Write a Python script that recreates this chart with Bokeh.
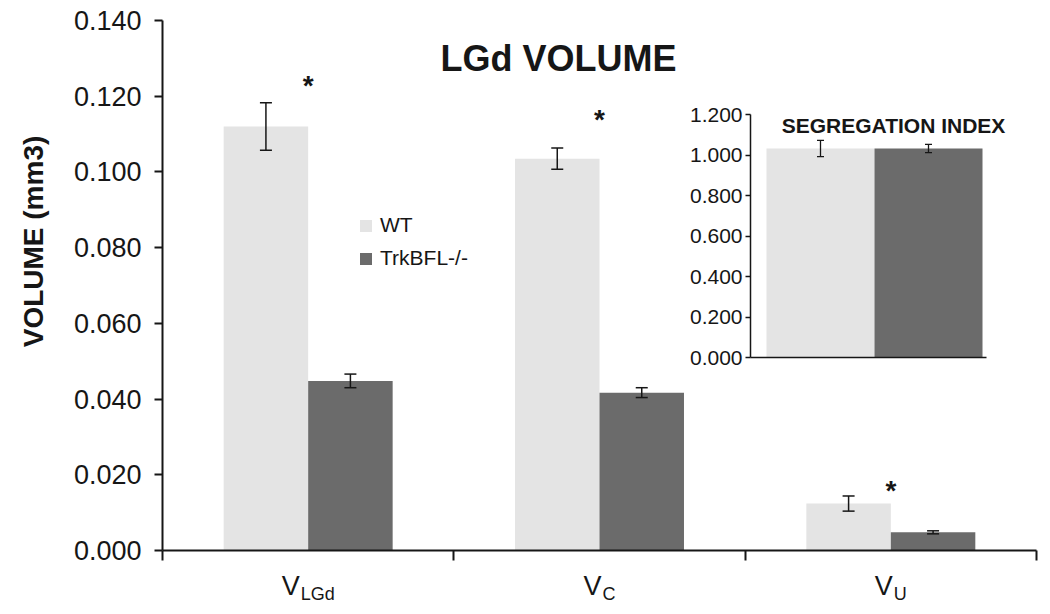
import math
from bokeh.plotting import figure
from bokeh.models import (Range1d, LinearAxis, FixedTicker, Label, Legend, LegendItem,
                          Whisker, ColumnDataSource, TeeHead, PrintfTickFormatter)
from bokeh.core.properties import value
from bokeh.embed import file_html
from bokeh.resources import INLINE

# ---------------- data ----------------
groups = ["WT", "TrkBFL-/-"]
cat_main = ["V", "V", "V"]
cat_sub = ["LGd", "C", "U"]
wt_mean = [0.112, 0.1035, 0.0124]
wt_err = [0.0063, 0.0028, 0.0020]
ko_mean = [0.0448, 0.0417, 0.0048]
ko_err = [0.0018, 0.0013, 0.0004]
sig_y = [0.1245, 0.1154, 0.0175]
y_ticks = [0.0, 0.02, 0.04, 0.06, 0.08, 0.10, 0.12, 0.14]

seg_mean = [1.032, 1.032]
seg_err = [0.040, 0.020]
seg_ticks = [0.0, 0.2, 0.4, 0.6, 0.8, 1.0, 1.2]

title_main = "LGd VOLUME"
title_inset = "SEGREGATION INDEX"
y_label = "VOLUME (mm3)"

# ---------------- layout (pixels) ----------------
W, H = 1040, 610
# main plot area: x 0..3 spans px 162..1036, y 0..0.14 spans px 550..20
MX0, MX1, MY0, MY1 = 162, 1036, 550, 20
# inset area: x unit = 108 px from px 766, y 0..1.2 spans px 357..114
IX0, IXU, IY0, IY1 = 766, 108, 357, 114

def lin(px0, v0, px1, v1, a, b):
    k = (v1 - v0) / (px1 - px0)
    return v0 + (a - px0) * k, v0 + (b - px0) * k

mx = lin(MX0, 0, MX1, 3, 0, W)
my = lin(MY0, 0, MY1, 0.14, H, 0)
ix = lin(IX0, 0, IX0 + IXU, 1, 0, W)
iy = lin(IY0, 0, IY1, 1.2, H, 0)

FONT = "Liberation Sans"
LIGHT = "#e4e4e4"
DARK = "#6b6b6b"
INK = "#161616"

p = figure(width=W, height=H, x_range=Range1d(*mx), y_range=Range1d(my[0], my[1]),
           output_backend="svg", toolbar_location=None,
           min_border_left=0, min_border_right=0, min_border_top=0, min_border_bottom=0)
p.outline_line_color = None
p.xgrid.grid_line_color = None
p.ygrid.grid_line_color = None
p.background_fill_color = "white"
p.border_fill_color = "white"

# main y axis
ya = p.yaxis[0]
ya.fixed_location = 0
ya.bounds = (0, 0.14)
ya.ticker = FixedTicker(ticks=y_ticks)
ya.formatter = PrintfTickFormatter(format="%.3f")
ya.major_tick_out = 8
ya.major_tick_in = 0
ya.minor_tick_line_color = None
ya.axis_line_width = 2
ya.major_tick_line_width = 2
ya.axis_line_color = INK
ya.major_tick_line_color = INK
ya.major_label_text_font = FONT
ya.major_label_text_font_size = "27px"
ya.major_label_text_color = INK
ya.major_label_standoff = 13

# main x axis
xa = p.xaxis[0]
xa.fixed_location = 0
xa.bounds = (0, 3)
xa.ticker = FixedTicker(ticks=[0, 1, 2, 3])
xa.major_label_overrides = {0: "", 1: "", 2: "", 3: ""}
xa.major_tick_out = 10
xa.major_tick_in = 0
xa.minor_tick_line_color = None
xa.axis_line_width = 2
xa.major_tick_line_width = 2
xa.axis_line_color = INK
xa.major_tick_line_color = INK

# y axis title
p.add_layout(Label(x=33, y=H - 241, x_units="screen", y_units="screen", text=y_label,
                   angle=math.pi / 2, text_font=FONT, text_font_style="bold",
                   text_font_size="28px", text_color=INK,
                   text_align="center", text_baseline="middle"))

# bars
n = len(wt_mean)
x_wt = [i + 0.355 for i in range(n)]
x_ko = [i + 0.645 for i in range(n)]
centers = [i + 0.5 for i in range(n)]
r_wt = p.vbar(x=x_wt, top=wt_mean, width=0.29, fill_color=LIGHT, line_color=None)
r_ko = p.vbar(x=x_ko, top=ko_mean, width=0.29, fill_color=DARK, line_color=None)

err_src = ColumnDataSource(dict(
    x=x_wt + x_ko,
    lower=[m - e for m, e in zip(wt_mean, wt_err)] + [m - e for m, e in zip(ko_mean, ko_err)],
    upper=[m + e for m, e in zip(wt_mean, wt_err)] + [m + e for m, e in zip(ko_mean, ko_err)],
))
p.add_layout(Whisker(source=err_src, base="x", lower="lower", upper="upper", level="overlay",
                     line_color=INK, line_width=1.5,
                     upper_head=TeeHead(size=12, line_width=1.5, line_color=INK),
                     lower_head=TeeHead(size=12, line_width=1.5, line_color=INK)))

# significance asterisks
p.text(x=centers, y=sig_y, text=["*"] * n, text_font=value(FONT), text_font_size="28px",
       text_font_style="bold", text_color=INK, text_align="center",
       text_baseline="middle", y_offset=6)

# category labels with subscripts
CW = {"V": 0.667, "L": 0.556, "G": 0.778, "d": 0.556, "C": 0.722, "U": 0.722}
MAIN_FS, SUB_FS = 27, 18
for c, m, s in zip(centers, cat_main, cat_sub):
    wm = sum(CW.get(ch, 0.6) for ch in m) * MAIN_FS
    ws = sum(CW.get(ch, 0.6) for ch in s) * SUB_FS
    left = -(wm + 1 + ws) / 2
    p.add_layout(Label(x=c, y=H - 585, y_units="screen", x_offset=left, text=m,
                       text_font=FONT, text_font_size=f"{MAIN_FS}px", text_color=INK,
                       text_align="left", text_baseline="alphabetic"))
    p.add_layout(Label(x=c, y=H - 593, y_units="screen", x_offset=left + wm + 1, text=s,
                       text_font=FONT, text_font_size=f"{SUB_FS}px", text_color=INK,
                       text_align="left", text_baseline="alphabetic"))

# main title
p.add_layout(Label(x=558, y=H - 58, x_units="screen", y_units="screen", text=title_main,
                   text_font=FONT, text_font_style="bold", text_font_size="36px",
                   text_color=INK, text_align="center", text_baseline="middle"))

# legend
legend = Legend(items=[LegendItem(label=groups[0], renderers=[r_wt]),
                       LegendItem(label=groups[1], renderers=[r_ko])],
                location=(358, H - 270), orientation="vertical",
                glyph_width=15, glyph_height=15, label_text_font=FONT,
                label_text_font_size="21px", label_text_color=INK, label_standoff=7,
                label_height=21, spacing=9, padding=0, margin=0,
                border_line_color=None, background_fill_alpha=0)
p.add_layout(legend)

# ---------------- inset (segregation index) ----------------
p.extra_x_ranges = {"ix": Range1d(*ix)}
p.extra_y_ranges = {"iy": Range1d(iy[0], iy[1])}

x_seg = [0.5, 1.5]
p.vbar(x=x_seg, top=seg_mean, width=1.0, fill_color=[LIGHT, DARK], line_color=None,
       x_range_name="ix", y_range_name="iy")
seg_src = ColumnDataSource(dict(
    x=x_seg,
    lower=[m - e for m, e in zip(seg_mean, seg_err)],
    upper=[m + e for m, e in zip(seg_mean, seg_err)],
))
p.add_layout(Whisker(source=seg_src, base="x", lower="lower", upper="upper", level="overlay",
                     x_range_name="ix", y_range_name="iy",
                     line_color=INK, line_width=1.3,
                     upper_head=TeeHead(size=7, line_width=1.3, line_color=INK),
                     lower_head=TeeHead(size=7, line_width=1.3, line_color=INK)))

iy_axis = LinearAxis(x_range_name="ix", y_range_name="iy", fixed_location=-0.148,
                     bounds=(0, 1.2), ticker=FixedTicker(ticks=seg_ticks),
                     formatter=PrintfTickFormatter(format="%.3f"))
iy_axis.major_tick_out = 5
iy_axis.major_tick_in = 0
iy_axis.minor_tick_line_color = None
iy_axis.axis_line_width = 1.5
iy_axis.major_tick_line_width = 1.5
iy_axis.axis_line_color = INK
iy_axis.major_tick_line_color = INK
iy_axis.major_label_text_font = FONT
iy_axis.major_label_text_font_size = "21px"
iy_axis.major_label_text_color = INK
iy_axis.major_label_standoff = 3
p.add_layout(iy_axis, "left")

ix_axis = LinearAxis(x_range_name="ix", y_range_name="iy", fixed_location=0,
                     bounds=(-0.148, 2.04), ticker=FixedTicker(ticks=[]))
ix_axis.major_tick_out = 0
ix_axis.major_tick_in = 0
ix_axis.minor_tick_line_color = None
ix_axis.axis_line_width = 1.5
ix_axis.axis_line_color = INK
p.add_layout(ix_axis, "below")

p.add_layout(Label(x=1.176, y=1.146, x_range_name="ix", y_range_name="iy", text=title_inset,
                   text_font=FONT, text_font_style="bold", text_font_size="21px",
                   text_color=INK, text_align="center", text_baseline="middle"))

open("out.html", "w").write(file_html(p, INLINE))
